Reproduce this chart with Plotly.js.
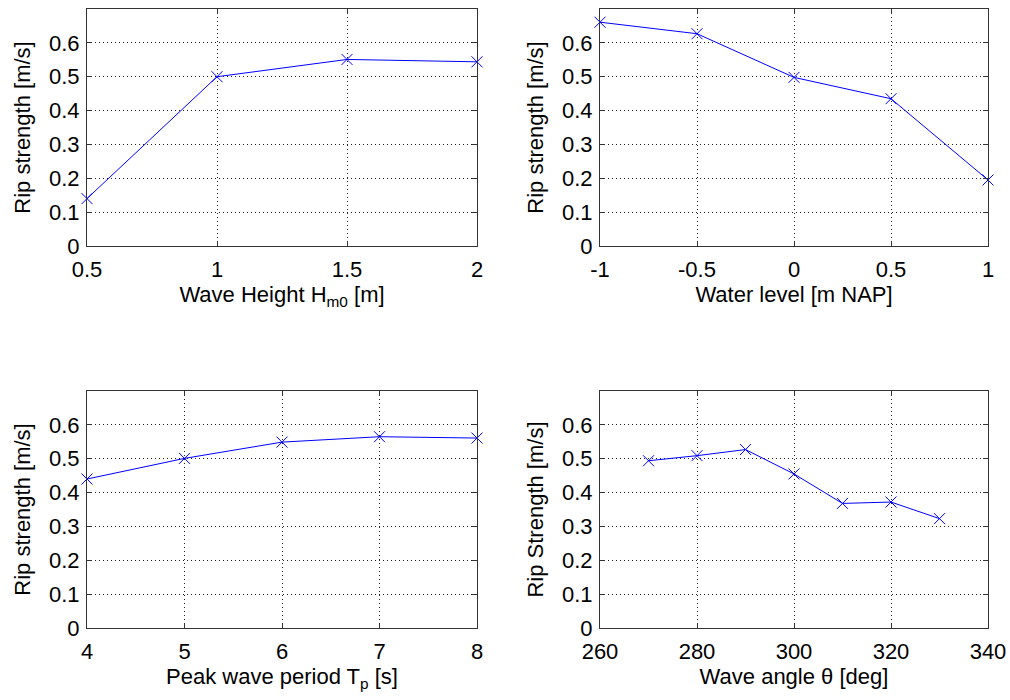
<!DOCTYPE html>
<html>
<head>
<meta charset="utf-8">
<script src="https://cdn.plot.ly/plotly-3.0.1.min.js"></script>
<style>html,body{margin:0;padding:0;background:#fff;}#chart{width:1010px;height:700px;}</style>
</head>
<body>
<div id="chart"></div>
<script>
// Panel 1: wave height
const waveHeight = [0.5, 1.0, 1.5, 2.0];
const ripByHeight = [0.14, 0.50, 0.551, 0.544];
// Panel 2: water level
const waterLevel = [-1.0, -0.5, 0.0, 0.5, 1.0];
const ripByLevel = [0.661, 0.627, 0.498, 0.435, 0.195];
// Panel 3: peak wave period
const peakPeriod = [4, 5, 6, 7, 8];
const ripByPeriod = [0.440, 0.501, 0.549, 0.565, 0.561];
// Panel 4: wave angle
const waveAngle = [270, 280, 290, 300, 310, 320, 330];
const ripByAngle = [0.494, 0.509, 0.527, 0.455, 0.368, 0.372, 0.323];

// Tick values / labels
const yTicks = [0, 0.1, 0.2, 0.3, 0.4, 0.5, 0.6];
const xTicksHeight = [0.5, 1, 1.5, 2];
const xTicksLevel = [-1, -0.5, 0, 0.5, 1];
const xTickTextLevel = ["-1", "-0.5", "0", "0.5", "1"];
const xTicksPeriod = [4, 5, 6, 7, 8];
const xTicksAngle = [260, 280, 300, 320, 340];

const font = {family: '"Liberation Sans", Arial, Helvetica, sans-serif', size: 22, color: '#000'};

function trace(x, y, xa, ya) {
  return {
    x: x, y: y, xaxis: xa, yaxis: ya,
    type: 'scatter', mode: 'lines+markers',
    line: {color: '#0000ff', width: 1},
    marker: {symbol: 'x-thin-open', size: 11, color: '#0000ff', line: {color: '#0000ff', width: 1}},
    cliponaxis: false, showlegend: false, hoverinfo: 'x+y'
  };
}

function xax(domain, range, tickvals, ticktext, title, anchor) {
  const a = {
    domain: domain, range: range, anchor: anchor,
    tickmode: 'array', tickvals: tickvals,
    showgrid: true, gridcolor: '#222', griddash: '1px,3px', gridwidth: 1,
    zeroline: false, showline: true, linecolor: '#333', linewidth: 1, mirror: 'ticks',
    ticks: 'inside', ticklen: 5, tickcolor: '#333', tickwidth: 1,
    tickfont: font, ticklabelstandoff: 4,
    title: {text: title, font: font, standoff: 4}
  };
  if (ticktext) a.ticktext = ticktext;
  return a;
}
function yax(domain, title, anchor) {
  return {
    domain: domain, range: [0, 0.7], anchor: anchor,
    tickmode: 'array', tickvals: yTicks,
    showgrid: true, gridcolor: '#222', griddash: '1px,3px', gridwidth: 1,
    zeroline: false, showline: true, linecolor: '#333', linewidth: 1, mirror: 'ticks',
    ticks: 'inside', ticklen: 5, tickcolor: '#333', tickwidth: 1,
    tickfont: font, ticklabelstandoff: 2,
    title: {text: title, font: font, standoff: 12}
  };
}

const dxL = [87/1010, 477/1010];
const dxR = [600/1010, 988/1010];
const dyT = [1 - 246/700, 1 - 9/700];
const dyB = [1 - 628/700, 1 - 391/700];

const data = [
  trace(waveHeight, ripByHeight, 'x', 'y'),
  trace(waterLevel, ripByLevel, 'x2', 'y2'),
  trace(peakPeriod, ripByPeriod, 'x3', 'y3'),
  trace(waveAngle, ripByAngle, 'x4', 'y4')
];

const layout = {
  width: 1010, height: 700,
  margin: {l: 0, r: 0, t: 0, b: 0},
  paper_bgcolor: '#fff', plot_bgcolor: '#fff',
  font: font,
  xaxis: xax(dxL, [0.5, 2], xTicksHeight, null, 'Wave Height H<sub>m0</sub> [m]', 'y'),
  yaxis: yax(dyT, 'Rip strength [m/s]', 'x'),
  xaxis2: xax(dxR, [-1, 1], xTicksLevel, xTickTextLevel, 'Water level [m NAP]', 'y2'),
  yaxis2: yax(dyT, 'Rip strength [m/s]', 'x2'),
  xaxis3: xax(dxL, [4, 8], xTicksPeriod, null, 'Peak wave period T<sub>p</sub> [s]', 'y3'),
  yaxis3: yax(dyB, 'Rip strength [m/s]', 'x3'),
  xaxis4: xax(dxR, [260, 340], xTicksAngle, null, 'Wave angle θ [deg]', 'y4'),
  yaxis4: yax(dyB, 'Rip Strength [m/s]', 'x4')
};

Plotly.newPlot('chart', data, layout, {displayModeBar: false, staticPlot: true});
</script>
</body>
</html>
